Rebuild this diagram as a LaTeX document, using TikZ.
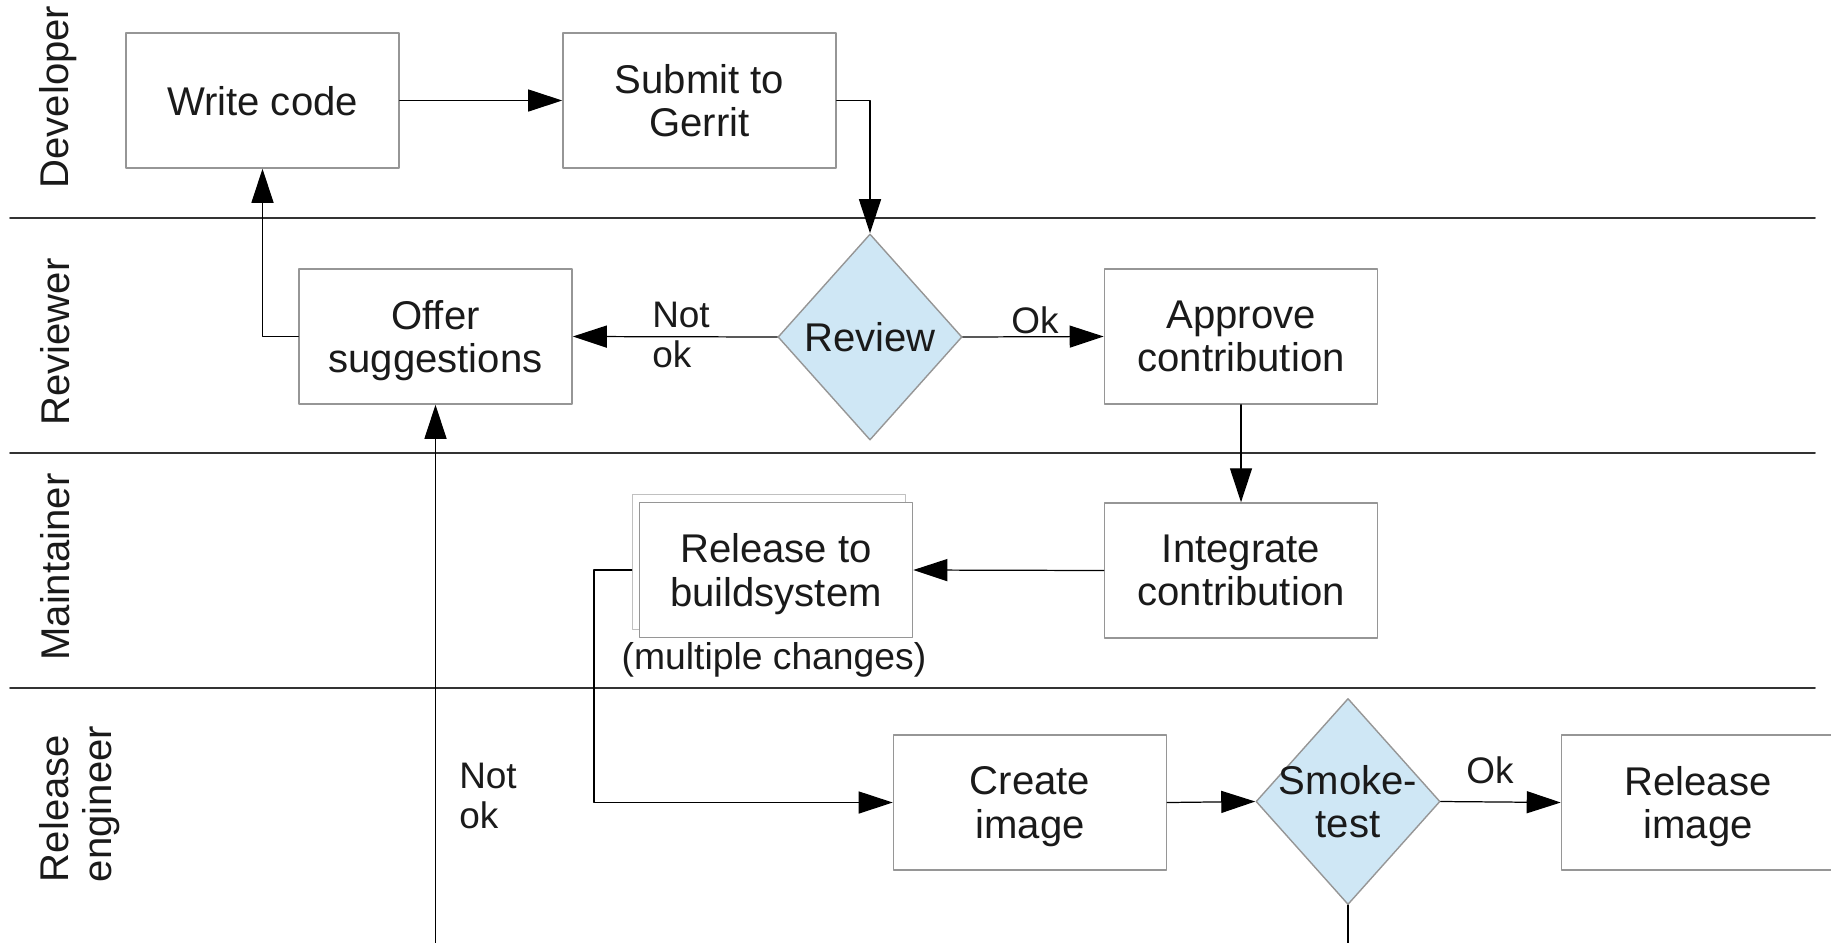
\documentclass[tikz,border=0pt]{standalone}
\usepackage{fontspec}
\setmainfont{Liberation Sans}
\usetikzlibrary{arrows.meta}
\usetikzlibrary{shapes.geometric}
\usetikzlibrary{shadows}
\definecolor{paleblue}{RGB}{207,231,245}
\definecolor{boxgray}{RGB}{150,150,150}
\definecolor{inkgray}{RGB}{26,26,26}

\begin{document}
\begin{tikzpicture}[x=0.01cm,y=-0.01cm,line cap=round,line join=round,
  font=\fontsize{11.4pt}{12.3pt}\selectfont,text=inkgray,
  task/.style={draw=boxgray,fill=white,line width=0.4pt,minimum width=2.73cm,minimum height=1.35cm,inner sep=0pt,align=center,text depth=0pt},
  decision/.style={diamond,draw=boxgray,fill=paleblue,line width=0.4pt,minimum width=1.84cm,minimum height=2.06cm,inner sep=0pt},
  flow/.style={line width=0.35pt,-{Triangle[length=3.4mm,width=2.2mm]}},
  lane/.style={line width=0.5pt,black!80},
  lanename/.style={rotate=90,align=left,inner sep=0pt},
  lbl/.style={align=left,inner sep=0pt,font=\fontsize{10.5pt}{11.4pt}\selectfont}]
\useasboundingbox (0,0) rectangle (1831,942);
\clip (0,0) rectangle (1831,942);
\draw[lane] (10,218) -- (1815,218);
\draw[lane] (10,453) -- (1815,453);
\draw[lane] (10,688) -- (1815,688);
\node[lanename] (developer) at (58,97) {Developer};
\node[lanename] (reviewer) at (55,342) {Reviewer};
\node[lanename] (maintainer) at (55,567) {Maintainer};
\node[lanename] (releaseeng) at (80,804) {Release\\engineer};
\node[task] (write) at (262.5,100.5) {Write code};
\node[task] (submit) at (699.5,100.5) {Submit to\\Gerrit};
\node[task] (offer) at (435.5,336.5) {Offer\\suggestions};
\node[decision] (review) at (870,337) {};
\node (reviewtext) at (review) {Review};
\node[task] (approve) at (1241,336.5) {Approve\\contribution};
\node[task] (integrate) at (1241,570.5) {Integrate\\contribution};
\node[task,copy shadow={shadow xshift=-0.07cm,shadow yshift=0.08cm,draw=boxgray!60,fill=white}] (rel) at (776,570) {Release to\\buildsystem};
\node[font=\fontsize{10.6pt}{11.4pt}\selectfont] (multiple) at (774,660) {(multiple changes)};
\node[task] (create) at (1030,802.5) {Create\\image};
\node[decision] (smoke) at (1348,801.5) {};
\node[align=center] (smoketext) at (smoke) {Smoke-\\test};
\node[task] (relimg) at (1698,802.5) {Release\\image};
\node[lbl] (notokreview) at (681,335) {Not\\ok};
\node[lbl] (okreview) at (1035,320) {Ok};
\node[lbl] (oksmoke) at (1490,770) {Ok};
\node[lbl] (notoksmoke) at (488,796) {Not\\ok};
\coordinate (relbend) at (594,802.5);
\coordinate (loopbottom) at (1348,990);
\draw[flow] (write) -- (submit);
\draw[flow] (submit.east) -| (review.north);
\draw[flow] (review.west) -- (offer.east);
\draw[flow] (offer.west) -| (write.south);
\draw[flow] (review.east) -- (approve.west);
\draw[flow] (approve.south) -- (integrate.north);
\draw[flow] (integrate.west) -- (rel.east);
\draw[flow] ([xshift=-0.07cm]rel.west) -| (relbend) -- (create.west);
\draw[flow] (create.east) -- (smoke.west);
\draw[flow] (smoke.east) -- (relimg.west);
\draw[flow] (smoke.south) -- (loopbottom) -| (offer.south);
\end{tikzpicture}
\end{document}
